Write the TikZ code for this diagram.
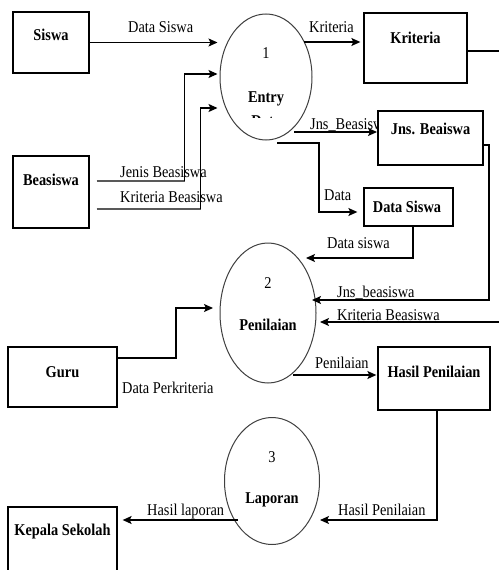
\documentclass[tikz,border=0pt]{standalone}
\usepackage{fontspec}
\setmainfont{Liberation Serif}[FakeStretch=0.87]
\usetikzlibrary{shapes.geometric,arrows.meta,calc}

\begin{document}
\begin{tikzpicture}[x=1pt,y=-1pt,
  box/.style={draw=black, line width=1.3pt, fill=white, rectangle, inner sep=0pt},
  proc/.style={draw=black!75, line width=1pt, ellipse, inner sep=0pt},
  boxtext/.style={font=\fontsize{16.5}{18}\selectfont\bfseries, inner sep=0pt, anchor=base},
  proctext/.style={font=\fontsize{16.5}{18}\selectfont, inner sep=0pt, anchor=base},
  flowtext/.style={font=\fontsize{16.5}{18}\selectfont, inner sep=0pt, anchor=base west},
  wire/.style={line width=1.3pt},
  graywire/.style={draw=black!65, line width=2.2pt},
  flow/.style={line width=1.3pt, -{Stealth[length=9pt,width=8pt,inset=2pt]}}
]
\fill[white] (0,0) rectangle (498,570);
\useasboundingbox (0,0) rectangle (498,570);

% ---------- processes ----------
\node[proc, minimum width=92pt, minimum height=126pt] (c1) at (266,77) {};
\node[proctext] (c1num) at (266,58) {1};
\node[boxtext] (c1name) at (266,102) {Entry};
\begin{scope}
  \clip (220,60) rectangle (312,117.5);
  \node[boxtext] (c1cut) at (266,126.5) {Data};
\end{scope}

\node[proc, minimum width=96pt, minimum height=140pt] (c2) at (268,313) {};
\node[proctext] (c2num) at (268,288) {2};
\node[boxtext] (c2name) at (268,330) {Penilaian};

\node[proc, minimum width=95pt, minimum height=127pt] (c3) at (272,481) {};
\node[proctext] (c3num) at (272,462) {3};
\node[boxtext] (c3name) at (272,503) {Laporan};

% ---------- external entities ----------
\node[box, minimum width=76pt, minimum height=61pt] (siswa) at (51,42.5) {};
\node[boxtext] (siswaT) at (51,40) {Siswa};
\node[box, minimum width=76pt, minimum height=72pt] (beasiswa) at (51,192) {};
\node[boxtext] (beasiswaT) at (51,185) {Beasiswa};
\node[box, minimum width=109pt, minimum height=60pt] (guru) at (62.5,377) {};
\node[boxtext] (guruT) at (62.5,377) {Guru};
\node[box, minimum width=109pt, minimum height=80pt] (kepala) at (62.5,547) {};
\node[boxtext] (kepalaT) at (62.5,535) {Kepala Sekolah};

% ---------- data stores ----------
\node[box, minimum width=103pt, minimum height=70pt] (kriteria) at (415.5,48) {};
\node[boxtext] (kriteriaT) at (415.5,43) {Kriteria};

% flow into Jns. Beaiswa (label runs under the box)
\coordinate (j0) at ($(c1)+(28,55)$);
\node[flowtext] (lJns) at (310,129) {Jns\_Beasiswa};
\draw[flow, shorten >=1pt] (j0) -- (j0 -| 378,0);

\node[box, minimum width=105pt, minimum height=54pt] (jns) at (430.5,138) {};
\node[boxtext] (jnsT) at (430.5,134) {Jns. Beaiswa};
\node[box, minimum width=89pt, minimum height=38pt] (datasiswa) at (408.5,207) {};
\node[boxtext] (datasiswaT) at (407,212) {Data Siswa};
\node[box, minimum width=112pt, minimum height=63pt] (hasil) at (434,378.5) {};
\node[boxtext] (hasilT) at (434,377) {Hasil Penilaian};

% ---------- flows into process 1 ----------
\draw[flow, shorten >=2pt] (siswa.east) -- (siswa.east -| c1.west);
\node[flowtext] (lDataSiswa) at (128,32) {Data Siswa};

\coordinate (b1) at ($(beasiswa.east)+(7,-11)$);
\coordinate (b1k) at ($(b1)+(88,0)$);
\coordinate (b1t) at ($(b1k)+(0,-107)$);
\draw[graywire] (b1) -- (b1k);
\draw[flow, shorten >=2pt] (b1k) -- (b1t) -- (b1t -| c1.west);
\node[flowtext] (lJenis) at (120,177) {Jenis Beasiswa};

\coordinate (b2) at ($(beasiswa.east)+(7,17)$);
\coordinate (b2k) at ($(b2)+(104,0)$);
\coordinate (b2t) at ($(b2k)+(0,-101)$);
\draw[graywire] (b2) -- (b2k);
\draw[flow, shorten >=2pt] (b2k) -- (b2t) -- (b2t -| c1.west);
\node[flowtext] (lKritB) at (120,202) {Kriteria Beasiswa};

% ---------- flows out of process 1 ----------
\coordinate (k0) at ($(c1)+(38,-35)$);
\draw[flow, shorten >=3pt] (k0) -- (k0 -| kriteria.west);
\node[flowtext] (lKriteria) at (309,32) {Kriteria};

\coordinate (d0) at ($(c1)+(11,66)$);
\coordinate (d1) at ($(d0)+(42,0)$);
\coordinate (d2) at ($(d1)+(0,69)$);
\draw[flow, shorten >=6pt] (d0) -- (d1) -- (d2) -- (d2 -| datasiswa.west);
\node[flowtext] (lData) at (324,200) {Data};

% ---------- flows into process 2 ----------
\coordinate (s0) at ($(datasiswa.south)+(4.5,0)$);
\coordinate (s1) at ($(c2)+(38,-55)$);
\draw[flow] (s0) -- (s0 |- s1) -- (s1);
\node[flowtext] (lDatasiswa) at (327,248) {Data siswa};

\coordinate (jn0) at ($(jns.east)+(0,7)$);
\coordinate (jn1) at ($(c2)+(44,-13)$);
\draw[flow] (jn0) -- (489,145) -- (489,300) -- (jn1);
\node[flowtext] (lJnsb) at (337,297) {Jns\_beasiswa};

\coordinate (kr0) at ($(kriteria.east)+(0,3)$);
\coordinate (kr1) at ($(c2)+(52,9)$);
\draw[flow] (kr0) -- (502,51) -- (502,322) -- (kr1);
\node[flowtext] (lKritB2) at (337,320) {Kriteria Beasiswa};

\coordinate (g0) at ($(guru.east)+(0,-19)$);
\coordinate (g1) at ($(c2)+(-55,-5)$);
\draw[flow] (g0) -- (176,358) -- (176,308) -- (g1);
\node[flowtext] (lPerk) at (122,393) {Data Perkriteria};

% ---------- process 2 to store, store to process 3 ----------
\coordinate (p0) at ($(c2)+(25,62)$);
\draw[flow, shorten >=1pt] (p0) -- (p0 -| hasil.west);
\node[flowtext] (lPenilaian) at (315,368) {Penilaian};

\coordinate (h0) at ($(hasil.south)+(3,0)$);
\coordinate (h1) at ($(c3)+(48,39)$);
\draw[flow] (h0) -- (h0 |- h1) -- (h1);
\node[flowtext] (lHasilP) at (338,515) {Hasil Penilaian};

% ---------- process 3 to head of school ----------
\coordinate (l0) at ($(c3)+(-34,39)$);
\draw[flow, shorten >=5pt] (l0) -- (l0 -| kepala.east);
\node[flowtext] (lHasilL) at (147,515) {Hasil laporan};

\end{tikzpicture}
\end{document}
